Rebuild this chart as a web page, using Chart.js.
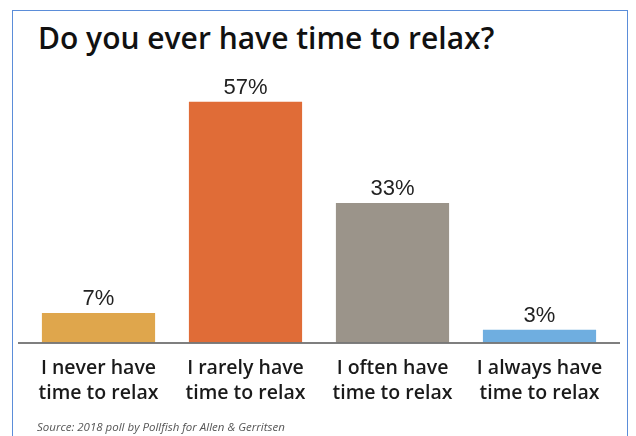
<!DOCTYPE html>
<html lang="en">
<head>
  <meta charset="UTF-8">
  <title>Do you ever have time to relax?</title>
  <script src="https://cdn.jsdelivr.net/npm/chart.js"></script>
  <style>
    html, body { margin: 0; padding: 0; background: #fff; }
    body { width: 636px; height: 436px; position: relative; overflow: hidden; }
    .frame {
      position: absolute; left: 12px; top: 10px; width: 616px; height: 440px;
      border: 1.5px solid #5b8dd9; box-sizing: border-box;
    }
    h1 {
      position: absolute; left: 38px; top: 17px; margin: 0;
      font: 600 30px "Open Sans", Lato, sans-serif; color: #111;
    }
    .source {
      position: absolute; left: 37px; top: 419px; margin: 0;
      font: italic 11.5px "Open Sans", Lato, sans-serif; color: #555;
    }
    #chartWrap { position: absolute; left: 0; top: 0; width: 636px; height: 436px; }
  </style>
</head>
<body>
  <div class="frame"></div>
  <h1>Do you ever have time to relax?</h1>
  <div id="chartWrap"><canvas id="myChart"></canvas></div>
  <p class="source">Source: 2018 poll by Pollfish for Allen &amp; Gerritsen</p>

  <script>
    const categories = [
      ['I never have', 'time to relax'],
      ['I rarely have', 'time to relax'],
      ['I often have', 'time to relax'],
      ['I always have', 'time to relax']
    ];
    const percents = [7, 57, 33, 3];
    const barColors = ['#dfa64c', '#e06c37', '#9b948a', '#6faee0'];

    // percentage text over each bar, plus a baseline a little wider than the bars
    const barLabels = {
      id: 'barLabels',
      afterDatasetsDraw(chart) {
        const ctx = chart.ctx;
        const area = chart.chartArea;
        ctx.save();
        ctx.strokeStyle = '#555';
        ctx.lineWidth = 1.5;
        ctx.beginPath();
        ctx.moveTo(area.left - 7, area.bottom + 0.5);
        ctx.lineTo(area.right + 7, area.bottom + 0.5);
        ctx.stroke();

        ctx.fillStyle = '#222';
        ctx.font = '22px "Liberation Sans", Arial, sans-serif';
        ctx.textAlign = 'center';
        ctx.textBaseline = 'bottom';
        chart.getDatasetMeta(0).data.forEach((bar, i) => {
          ctx.fillText(percents[i] + '%', bar.x, bar.y - 3);
        });
        ctx.restore();
      }
    };

    new Chart(document.getElementById('myChart'), {
      type: 'bar',
      data: {
        labels: categories,
        datasets: [{
          data: percents,
          backgroundColor: barColors,
          barPercentage: 0.77,
          categoryPercentage: 1
        }]
      },
      options: {
        responsive: true,
        maintainAspectRatio: false,
        animation: false,
        layout: { padding: { left: 25, right: 23, top: 89, bottom: 24 } },
        plugins: { legend: { display: false }, tooltip: { enabled: false } },
        scales: {
          y: { display: false, min: 0, max: 60 },
          x: {
            grid: { display: false },
            border: { display: false },
            ticks: {
              padding: 6,
              color: '#1a1a1a',
              maxRotation: 0,
              font: { family: '"Open Sans", Lato, sans-serif', size: 19.5, weight: '600', lineHeight: 1.27 }
            }
          }
        }
      },
      plugins: [barLabels]
    });
  </script>
</body>
</html>
